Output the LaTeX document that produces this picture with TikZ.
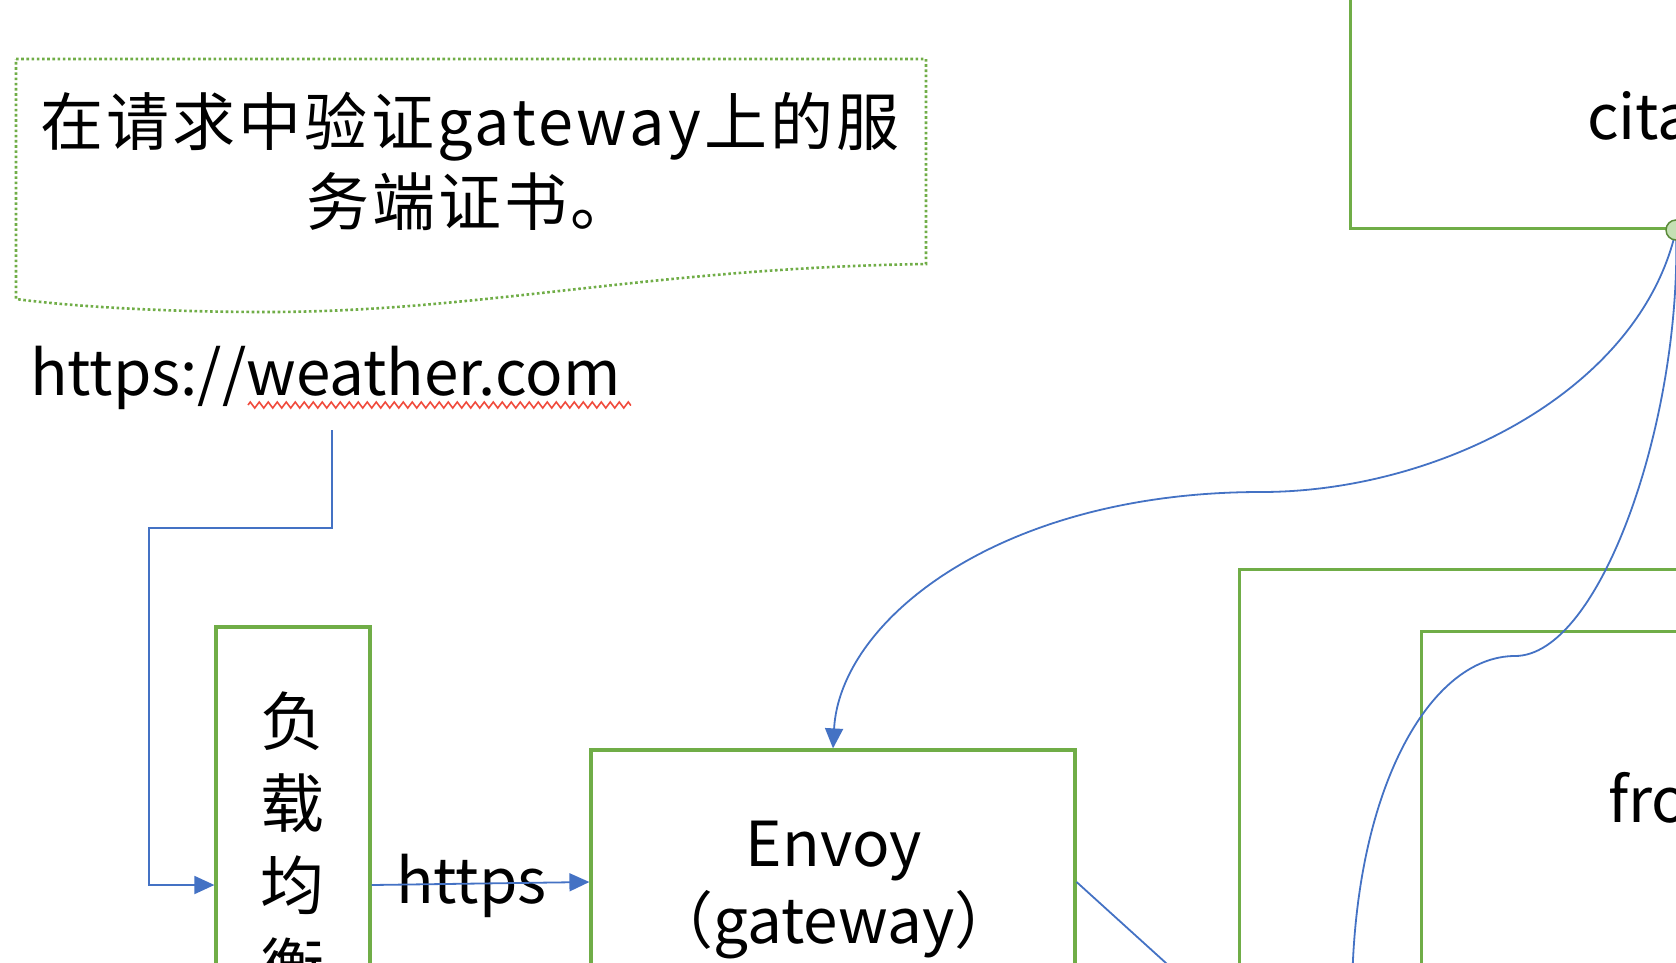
\documentclass[tikz,border=0pt]{standalone}
\usepackage{fontspec}
\setmainfont{Noto Sans CJK SC}
\usetikzlibrary{arrows.meta,decorations.pathmorphing}
\definecolor{ogreen}{HTML}{70AD47}
\definecolor{oblue}{HTML}{4472C4}
\definecolor{lgreen}{HTML}{C5E0B4}
\definecolor{sqred}{HTML}{F04A3C}
\tikzset{
  box/.style={draw=ogreen, line width=3.2pt, inner sep=0pt},
  txt/.style={font=\fontsize{62}{80}\selectfont, inner sep=0pt, align=center},
  conn/.style={draw=oblue, line width=1.8pt},
  tip/.style={-{Triangle[width=18pt,length=20pt]}},
}
\begin{document}
\begin{tikzpicture}[x=1pt,y=-1pt]
\useasboundingbox (0,0) rectangle (1676,962);
\clip (0,0) rectangle (1676,962);
% callout
\draw[ogreen, line width=2.6pt, dash pattern=on 2.6pt off 2.6pt]
  (16,59) -- (926,59) -- (926,264)
  .. controls (650,268) and (480,312) .. (267,312)
  .. controls (150,312) and (60,305) .. (16,299) -- cycle;
\node[txt, font=\fontsize{63}{80}\selectfont\addfontfeature{LetterSpace=5}] (note) at (470,161) {在请求中验证gateway上的服\\务端证书。};
% url
\node[txt, anchor=west] (url) at (30,378) {https://weather.com};
\draw[sqred, line width=1.6pt, decorate, decoration={zigzag, segment length=9pt, amplitude=3pt}]
  (248,405) -- (631,405);
\coordinate (urlb) at (332,430);
% boxes
\node[box, minimum width=154pt, minimum height=516pt] (lb) at (293,885) {};
\node[txt, font=\fontsize{64}{82}\selectfont] (lbt) at (292,844) {负\\载\\均\\衡};
\node[box, minimum width=484pt, minimum height=264pt] (envoy) at (833,882) {};
\node[txt, font=\fontsize{62}{77}\selectfont] (envoyt) at (834,890) {Envoy\\（gateway）};
\node[box, minimum width=600pt, minimum height=400pt, anchor=south west] (cita) at (1349,230) {};
\node[txt, anchor=west] (citat) at (1587,116) {cita};
\node[box, minimum width=800pt, minimum height=700pt, anchor=north west] (outer) at (1238,568) {};
\node[box, minimum width=700pt, minimum height=600pt, anchor=north west] (inner) at (1420,630) {};
\node[txt, anchor=west] (frot) at (1608,798) {fro};
\coordinate (cpt) at (1676,230);
% https label
\node[txt, anchor=west] (https) at (396,886) {https};
% connectors
\draw[conn, tip] (urlb) |- (149,528) |- (lb.west);
\draw[conn, tip] (lb.east) -- (envoy.west);
\draw[conn, tip] (cpt) .. controls (1640,390) and (1440,492) .. (1261,492)
  .. controls (1000,492) and (840,620) .. (envoy.north);
\draw[conn] (cpt) .. controls (1682,420) and (1600,656) .. (1515,656)
  .. controls (1430,656) and (1352,790) .. (1352,1000);
\draw[conn] (envoy.east) -- ++(150,136);
\node[circle, draw=ogreen!80!black, fill=lgreen, line width=1.5pt, minimum size=20pt, inner sep=0pt] (handle) at (cpt) {};
\end{tikzpicture}
\end{document}
